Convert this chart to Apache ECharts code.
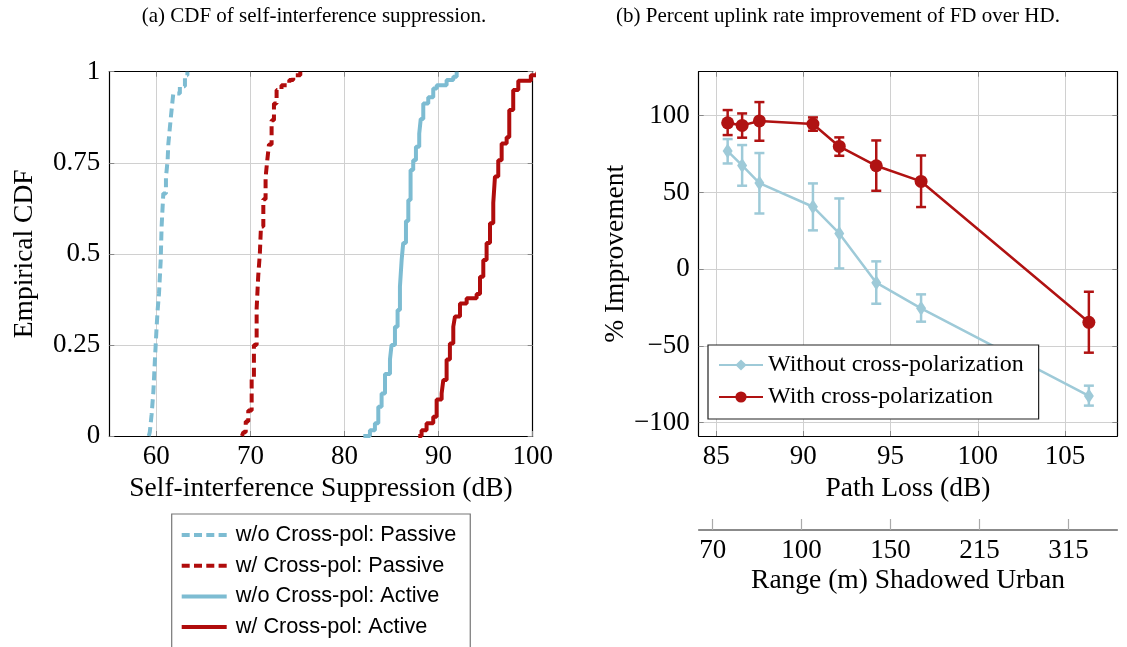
<!DOCTYPE html>
<html><head><meta charset="utf-8">
<script src="https://cdn.jsdelivr.net/npm/echarts@6/dist/echarts.min.js"></script>
<style>html,body{margin:0;padding:0;background:#fff}#c{width:1127px;height:647px}</style>
</head><body><div id="c"></div>
<script>
// ---------- (a) CDF data: [suppression dB, empirical CDF] ----------
const woPassive = [[59.2,0],[59.3,0.01],[59.5,0.06],[59.68,0.12],[59.85,0.21],[60.03,0.30],[60.15,0.35],[60.28,0.39],[60.46,0.48],[60.56,0.575],[60.74,0.666],[61.02,0.71],[61.2,0.757],[61.27,0.80],[61.45,0.85],[61.62,0.895],[61.8,0.94],[62.5,0.96],[63.04,0.99],[63.3,1.0]];
const wPassive = [[69.1,0],[69.24,0.01],[69.5,0.04],[69.77,0.07],[70.13,0.16],[70.37,0.25],[70.66,0.35],[70.83,0.44],[71.0,0.50],[71.12,0.575],[71.37,0.65],[71.61,0.71],[71.79,0.757],[71.97,0.80],[72.25,0.867],[72.5,0.913],[72.78,0.95],[73.3,0.963],[74.13,0.977],[74.55,0.99],[75.3,1.0]];
const woActive = [[82.0,0],[82.7,0.016],[83.23,0.035],[83.59,0.08],[83.94,0.117],[84.3,0.17],[84.83,0.21],[85.0,0.25],[85.36,0.30],[85.64,0.346],[85.89,0.41],[86.07,0.483],[86.24,0.53],[86.53,0.59],[86.78,0.648],[87.02,0.73],[87.3,0.757],[87.59,0.794],[87.94,0.83],[88.1,0.87],[88.37,0.913],[88.9,0.93],[89.43,0.954],[89.8,0.963],[90.85,0.977],[91.56,0.986],[91.92,1.0]];
const wActive = [[87.84,0],[88.19,0.016],[88.72,0.035],[89.43,0.053],[89.79,0.1],[90.32,0.117],[90.5,0.154],[90.85,0.21],[91.2,0.254],[91.56,0.30],[91.74,0.328],[92.27,0.364],[92.98,0.378],[94.04,0.39],[94.4,0.437],[94.75,0.483],[95.1,0.53],[95.46,0.584],[95.81,0.64],[95.99,0.712],[96.34,0.757],[96.7,0.803],[97.23,0.82],[97.51,0.895],[97.93,0.95],[98.47,0.975],[99.8,0.99],[100.5,1.0]];
const cdfXTicks = [60,70,80,90,100];
const cdfNames = ['w/o Cross-pol: Passive','w/ Cross-pol: Passive','w/o Cross-pol: Active','w/ Cross-pol: Active'];

// ---------- (b) uplink improvement data ----------
const pathLoss = [85.66, 86.49, 87.48, 90.55, 92.06, 94.18, 96.75, 106.37];
const withXpol = [95.4, 93.7, 96.6, 94.6, 80.0, 67.4, 57.2, -34.6];
const withXpolLow = [87.4, 85.7, 83.7, 90.2, 73.9, 51.1, 40.5, -54.4];
const withXpolHigh = [103.7, 101.5, 108.9, 98.9, 85.9, 83.9, 74.1, -14.7];
const withoutXpol = [77.0, 67.6, 56.1, 40.7, 23.3, -8.8, -25.5, -82.6];
const withoutXpolLow = [68.9, 54.4, 36.3, 25.3, 0.5, -22.5, -34.2, -88.9];
const withoutXpolHigh = [84.8, 80.9, 75.7, 55.9, 46.1, 5.1, -16.4, -75.9];
const plXTicks = [85,90,95,100,105];
const impYTicks = [-100,-50,0,50,100];
const rangeTickPathLoss = [84.8, 89.9, 95.0, 100.1, 105.2];
const rangeLabels = ['70','100','150','215','315'];
const impNames = ['Without cross-polarization','With cross-polarization'];

const SERIF = 'Liberation Serif';
const SANS = 'Liberation Sans';
const cBlueL = '#7dbcd2', cRedL = '#b00c0c';
const cBlueR = '#9ecad8', cRedR = '#b01212';
const gridColor = '#d0d0d0';
const tickColor = '#888';
const FS = 27, NFS = 27.5;

const chart = echarts.init(document.getElementById('c'), null, {renderer:'canvas'});

function pairs(xs, ys){ return xs.map((x,i)=>[x, ys[i]]); }
function errData(xs, lo, hi){ return xs.map((x,i)=>[x, lo[i], hi[i]]); }
function errRender(color){
  return function(params, api){
    const x = api.value(0), lo = api.value(1), hi = api.value(2);
    const a = api.coord([x, lo]), b = api.coord([x, hi]);
    const hw = 5, st = {stroke: color, lineWidth: 2.5};
    return {type:'group', children:[
      {type:'line', shape:{x1:a[0],y1:a[1],x2:b[0],y2:b[1]}, style:st},
      {type:'line', shape:{x1:a[0]-hw,y1:a[1],x2:a[0]+hw,y2:a[1]}, style:st},
      {type:'line', shape:{x1:b[0]-hw,y1:b[1],x2:b[0]+hw,y2:b[1]}, style:st}
    ]};
  };
}
const minus = v => String(v).replace('-', '\u2212');

function mainX(gi, min, max, ticks, name, nameGap){
  return {gridIndex: gi, type:'value', min, max, position:'bottom',
    axisLine:{show:true, onZero:false, lineStyle:{color:'#000', width:1.2}},
    axisTick:{show:true, inside:true, length:5, customValues: ticks, lineStyle:{color:tickColor}},
    axisLabel:{show:true, customValues: ticks, color:'#000', fontFamily:SERIF, fontSize:FS, margin:7, formatter: minus},
    splitLine:{show:true, lineStyle:{color:gridColor, width:1}},
    name, nameLocation:'middle', nameGap, nameTextStyle:{color:'#000', fontFamily:SERIF, fontSize:NFS}};
}
function mirrorX(gi, min, max, ticks){
  return {gridIndex: gi, type:'value', min, max, position:'top',
    axisLine:{show:true, onZero:false, lineStyle:{color:'#000', width:1.2}},
    axisTick:{show:true, inside:true, length:5, customValues: ticks, lineStyle:{color:tickColor}},
    axisLabel:{show:false}, splitLine:{show:false}};
}
function mainY(gi, min, max, ticks, name, nameGap, interval){
  const o = {gridIndex: gi, type:'value', min, max, position:'left',
    axisLine:{show:true, onZero:false, lineStyle:{color:'#000', width:1.2}},
    axisTick:{show:true, inside:true, length:5, lineStyle:{color:tickColor}},
    axisLabel:{show:true, color:'#000', fontFamily:SERIF, fontSize:FS, margin:9, formatter: minus},
    splitLine:{show:true, lineStyle:{color:gridColor, width:1}},
    name, nameLocation:'middle', nameGap, nameRotate:90, nameTextStyle:{color:'#000', fontFamily:SERIF, fontSize:NFS}};
  if (interval) o.interval = interval; else { o.axisTick.customValues = ticks; o.axisLabel.customValues = ticks; }
  return o;
}
function mirrorY(gi, min, max, ticks, interval){
  const o = {gridIndex: gi, type:'value', min, max, position:'right',
    axisLine:{show:true, onZero:false, lineStyle:{color:'#000', width:1.2}},
    axisTick:{show:true, inside:true, length:5, lineStyle:{color:tickColor}},
    axisLabel:{show:false}, splitLine:{show:false}};
  if (interval) o.interval = interval; else o.axisTick.customValues = ticks;
  return o;
}
const dashIcon = 'path://M0,0h8v4h-8zM12.3,0h8v4h-8zM24.6,0h8v4h-8zM36.9,0h8.1v4h-8.1z';
const solidIcon = 'path://M0,0h45v4h-45z';

const option = {
  animation:false,
  backgroundColor:'#fff',
  graphic:[
    {type:'text', x:314, y:16, style:{text:'(a) CDF of self-interference suppression.', font:'21px "Liberation Serif"', fill:'#000', align:'center', verticalAlign:'middle'}},
    {type:'text', x:838, y:16, style:{text:'(b) Percent uplink rate improvement of FD over HD.', font:'21px "Liberation Serif"', fill:'#000', align:'center', verticalAlign:'middle'}}
  ],
  grid:[
    {left:109.3, top:71.7, width:423.4, height:364.3, containLabel:false},
    {left:698.7, top:71.7, width:418.6, height:364.3, containLabel:false},
    {left:698.7, top:529, width:418.6, height:1, containLabel:false}
  ],
  xAxis:[
    mainX(0, 55, 100, cdfXTicks, 'Self-interference Suppression (dB)', 39),
    mirrorX(0, 55, 100, cdfXTicks),
    mainX(1, 84, 108, plXTicks, 'Path Loss (dB)', 34),
    mirrorX(1, 84, 108, plXTicks),
    {gridIndex:2, type:'value', min:84, max:108, position:'bottom',
      axisLine:{show:true, lineStyle:{color:'#666', width:1.5}},
      axisTick:{show:true, inside:true, length:11, customValues: rangeTickPathLoss, lineStyle:{color:'#aaa', width:1.2}},
      axisLabel:{show:true, customValues: rangeTickPathLoss, color:'#000', fontFamily:SERIF, fontSize:FS, margin:7,
        formatter: v => { let bi=0; rangeTickPathLoss.forEach((t,i)=>{ if (Math.abs(t-v) < Math.abs(rangeTickPathLoss[bi]-v)) bi=i; }); return rangeLabels[bi]; }},
      splitLine:{show:false},
      name:'Range (m) Shadowed Urban', nameLocation:'middle', nameGap:37, nameTextStyle:{color:'#000', fontFamily:SERIF, fontSize:NFS}}
  ],
  yAxis:[
    mainY(0, 0, 1, null, 'Empirical CDF', 71, 0.25),
    mirrorY(0, 0, 1, null, 0.25),
    mainY(1, -108.7, 128.7, impYTicks, '% Improvement', 68),
    mirrorY(1, -108.7, 128.7, impYTicks),
    {gridIndex:2, type:'value', min:0, max:1, show:false}
  ],
  legend:[
    {data: [
        {name:cdfNames[0], icon:dashIcon},
        {name:cdfNames[1], icon:dashIcon},
        {name:cdfNames[2], icon:solidIcon},
        {name:cdfNames[3], icon:solidIcon}],
      orient:'vertical', left:171.7, top:514, height:160, itemWidth:45, itemHeight:4, itemGap:8.7,
      padding:[10,14,20,10], backgroundColor:'#fff', borderColor:'#777', borderWidth:1.2,
      textStyle:{color:'#000', fontFamily:SANS, fontSize:21.7, lineHeight:22, padding:[0,0,0,4]}},
    {data: impNames, orient:'vertical', left:708, top:345, itemWidth:44, itemHeight:14, itemGap:8,
      padding:[8,15,10,10], backgroundColor:'#fff', borderColor:'#222', borderWidth:1.2,
      textStyle:{color:'#000', fontFamily:SERIF, fontSize:24, lineHeight:22}}
  ],
  series:[
    {name:cdfNames[0], type:'line', xAxisIndex:0, yAxisIndex:0, step:'end', symbol:'none', data: woPassive,
      lineStyle:{color:cBlueL, width:4, type:[9,5]}, itemStyle:{color:cBlueL}, clip:true},
    {name:cdfNames[1], type:'line', xAxisIndex:0, yAxisIndex:0, step:'end', symbol:'none', data: wPassive,
      lineStyle:{color:cRedL, width:4, type:[9,5]}, itemStyle:{color:cRedL}, clip:true},
    {name:cdfNames[2], type:'line', xAxisIndex:0, yAxisIndex:0, step:'end', symbol:'none', data: woActive,
      lineStyle:{color:cBlueL, width:4}, itemStyle:{color:cBlueL}, clip:true},
    {name:cdfNames[3], type:'line', xAxisIndex:0, yAxisIndex:0, step:'end', symbol:'none', data: wActive,
      lineStyle:{color:cRedL, width:4}, itemStyle:{color:cRedL}, clip:true},

    {type:'custom', xAxisIndex:2, yAxisIndex:2, renderItem: errRender(cBlueR), data: errData(pathLoss, withoutXpolLow, withoutXpolHigh), encode:{x:0, y:[1,2]}, z:2},
    {type:'custom', xAxisIndex:2, yAxisIndex:2, renderItem: errRender(cRedR), data: errData(pathLoss, withXpolLow, withXpolHigh), encode:{x:0, y:[1,2]}, z:2},
    {name:impNames[0], type:'line', xAxisIndex:2, yAxisIndex:2, data: pairs(pathLoss, withoutXpol), symbol:'diamond', symbolSize:[10,15],
      lineStyle:{color:cBlueR, width:2.5}, itemStyle:{color:cBlueR}, z:3},
    {name:impNames[1], type:'line', xAxisIndex:2, yAxisIndex:2, data: pairs(pathLoss, withXpol), symbol:'circle', symbolSize:13,
      lineStyle:{color:cRedR, width:2.5}, itemStyle:{color:cRedR}, z:3}
  ]
};
chart.setOption(option);
</script>
</body></html>
